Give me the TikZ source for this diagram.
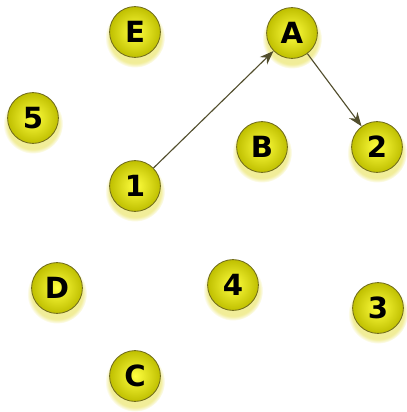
\documentclass[tikz,border=0pt]{standalone}
\usepackage{fontspec}
\setsansfont{DejaVu Sans}
\usetikzlibrary{arrows.meta, shadows}

\begin{document}
\begin{tikzpicture}[
    x=0.025cm, y=-0.025cm,
    every node/.style={font=\sffamily\bfseries\huge},
    ball/.style={circle, minimum size=1.27cm, inner sep=0pt, draw=olive!75!black, semithick,
        inner color=yellow!75!white, outer color=yellow!50!olive,
        circular drop shadow={fill=yellow!70!olive, opacity=0.4, shadow xshift=0pt, shadow yshift=-0.12cm, shadow scale=1.18}},
    link/.style={-{Stealth[length=3.5mm, width=2.6mm]}, thick, draw=olive!45!black}
    ]
    \useasboundingbox (0,0) rectangle (406,412);
    \node[ball] (e) at (135,32) {E};
    \node[ball] (a) at (292,33) {A};
    \node[ball] (n5) at (33,118) {5};
    \node[ball] (b) at (262,147) {B};
    \node[ball] (n2) at (377,147) {2};
    \node[ball] (n1) at (135,186) {1};
    \node[ball] (d) at (57,288) {D};
    \node[ball] (n4) at (233,285) {4};
    \node[ball] (n3) at (378,308) {3};
    \node[ball] (c) at (135,376) {C};
    \draw[link] (n1) -- (a);
    \draw[link] (a) -- (n2);
\end{tikzpicture}
\end{document}
